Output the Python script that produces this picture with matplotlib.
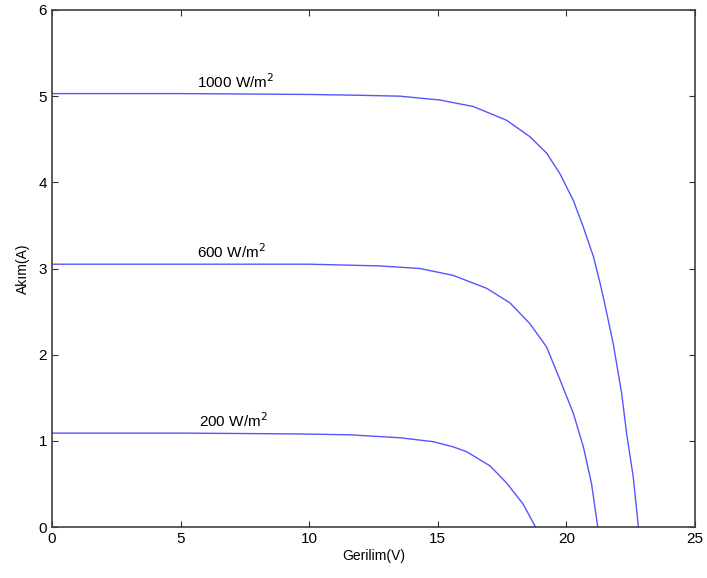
import numpy as np
import matplotlib.pyplot as plt

plt.rcParams['font.family'] = ['Liberation Sans', 'DejaVu Sans']

# I-V curves (voltage V, current A)
v_1000 = [0, 5, 10, 12, 13.53, 15.09, 16.38, 17.68, 18.58, 19.23, 19.75, 20.27,
          20.66, 21.05, 21.31, 21.5, 21.82, 22.15, 22.34, 22.6, 22.8]
i_1000 = [5.03, 5.03, 5.02, 5.01, 5.0, 4.955, 4.88, 4.72, 4.53, 4.34, 4.10, 3.79,
          3.48, 3.14, 2.83, 2.58, 2.13, 1.55, 1.09, 0.58, 0.0]

v_600 = [0, 5, 10, 12.75, 14.31, 15.6, 16.9, 17.81, 18.58, 19.23, 19.75, 20.27,
         20.66, 20.98, 21.22]
i_600 = [3.05, 3.05, 3.05, 3.03, 3.0, 2.92, 2.77, 2.60, 2.36, 2.09, 1.71, 1.32,
         0.93, 0.5, 0.0]

v_200 = [0, 5, 9.64, 11.59, 13.53, 14.83, 15.6, 16.12, 17.03, 17.68, 18.32, 18.8]
i_200 = [1.09, 1.09, 1.08, 1.07, 1.036, 0.99, 0.93, 0.874, 0.71, 0.51, 0.265, 0.0]

labels = ['1000 W/m$^2$', '600 W/m$^2$', '200 W/m$^2$']
label_pos = [(5.65, 5.1), (5.65, 3.12), (5.7, 1.16)]

fig = plt.figure(figsize=(7.07, 5.78), dpi=100)
ax = fig.add_axes([0.0735, 0.0882, 0.9095, 0.8945])

for v, i in [(v_1000, i_1000), (v_600, i_600), (v_200, i_200)]:
    ax.plot(v, i, color='#5555ff', lw=1.0)

for txt, (x, y) in zip(labels, label_pos):
    ax.text(x, y, txt, fontsize=11, va='baseline', ha='left')

ax.set_xlim(0, 25)
ax.set_ylim(0, 6)
ax.set_xticks(np.arange(0, 26, 5))
ax.set_yticks(np.arange(0, 7, 1))
ax.tick_params(direction='in', top=True, right=True, labelsize=11, length=4,
               color='#303030')
for s in ax.spines.values():
    s.set_color('#404040')
    s.set_linewidth(1.2)
ax.set_xlabel('Gerilim(V)', fontsize=10, labelpad=2)
ax.set_ylabel('Akım(A)', fontsize=10, labelpad=6)

fig.savefig('out.png', dpi=100)
